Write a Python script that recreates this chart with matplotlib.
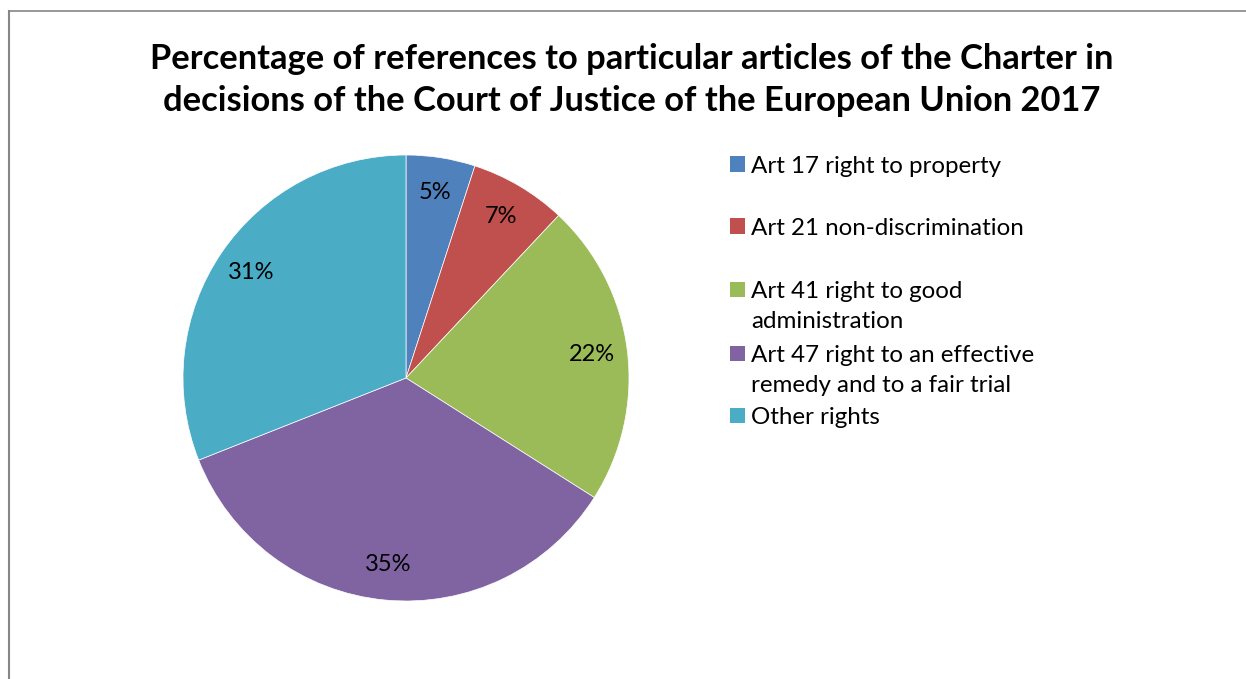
import matplotlib
matplotlib.use("Agg")
import matplotlib.pyplot as plt
from matplotlib.lines import Line2D
from matplotlib.patches import Rectangle

TITLE = ("Percentage of references to particular articles of the Charter in\n"
         "decisions of the Court of Justice of the European Union 2017")
LABELS = [
    "Art 17 right to property",
    "Art 21 non-discrimination",
    "Art 41 right to good\nadministration",
    "Art 47 right to an effective\nremedy and to a fair trial",
    "Other rights",
]
VALUES = [5, 7, 22, 35, 31]
COLORS = ["#4F81BD", "#C0504D", "#9BBB59", "#8064A2", "#4BACC6"]

plt.rcParams["font.family"] = ["Lato", "DejaVu Sans"]

W, H = 1246, 679
fig = plt.figure(figsize=(W / 100, H / 100), dpi=100)

# chart area border: only the left and top edges show in the crop
bx, by = 8.5 / W, 1 - 10.5 / H
fig.add_artist(Line2D([bx, 1.0], [by, by], transform=fig.transFigure,
                      color="#868686", linewidth=1.2))
fig.add_artist(Line2D([bx, bx], [0.0, by], transform=fig.transFigure,
                      color="#868686", linewidth=1.5))

fig.text(632 / W, 1 - 80 / H, TITLE, ha="center", va="center",
         fontsize=24.8, fontweight="bold", linespacing=1.37)

cx, cy, r = 406, 378, 223
ax = fig.add_axes([(cx - r) / W, (H - cy - r) / H, 2 * r / W, 2 * r / H])
ax.pie(VALUES, colors=COLORS, startangle=90, counterclock=False,
       autopct=lambda p: f"{p:.0f}%", pctdistance=0.84,
       wedgeprops={"edgecolor": "white", "linewidth": 0.5},
       textprops={"fontsize": 17, "color": "black"})
ax.set_xlim(-1, 1)
ax.set_ylim(-1, 1)

# legend, placed as in the original
leg_y = [164, 226, 289, 353, 415]
for lab, col, y in zip(LABELS, COLORS, leg_y):
    fig.add_artist(Rectangle((730 / W, 1 - (y + 7.5) / H), 15 / W, 15 / H,
                             transform=fig.transFigure, facecolor=col,
                             edgecolor="none"))
    fig.text(751 / W, 1 - (y - 8) / H, lab, ha="left", va="top",
             fontsize=17.4, linespacing=1.55)

fig.savefig("out.png", dpi=100)
